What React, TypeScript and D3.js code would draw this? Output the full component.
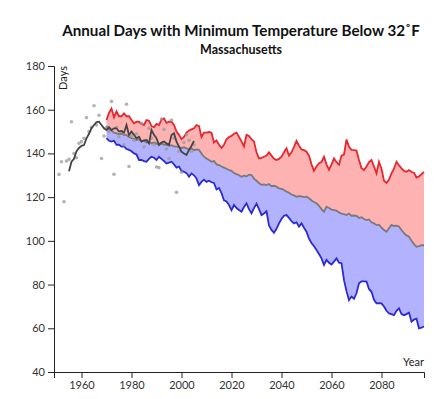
import React, { useRef, useEffect } from "react";
import * as d3 from "d3";

// observed annual counts (dots), 1951-2005
const obsYears = d3.range(1951, 2006);
const obsDays = [
  130.4, 136.2, 117.9, 136.5, 137.3, 154.5, 140, 138, 144.6, 145.4,
  146.9, 156.4, 150, 152, 161.8, 153, 157.5, 137.7, 148, 152,
  150, 163.8, 130.5, 152, 147.6, 150, 143.9, 162.5, 134, 148,
  146, 149, 147, 153.8, 143, 146, 151.5, 147, 144, 133.8,
  133.5, 155.7, 151, 142, 137.7, 155.3, 147, 122.2, 141, 131.4,
  145, 148.5, 146, 141, 144,
];

// observed running mean, 1955-2005
const meanYears = d3.range(1955, 2006);
const meanDays = [
  131.8, 136.2, 137.5, 141, 142.5, 143.5, 143.8, 146.9, 149, 151.5,
  153, 154.3, 154.5, 153, 151.5, 150.7, 152, 150.7, 151.5, 151.5,
  150, 150.3, 149.5, 153, 148.4, 150, 148.5, 146.9, 147.6, 145.4,
  146, 146.1, 144.6, 150.7, 148.5, 146.9, 143.9, 145, 145.4, 144.6,
  143.9, 148.4, 149.2, 145.4, 143.1, 140.8, 140, 139.3, 141.6, 143.5,
  145.7,
];

// modelled projections, 1970-2097
const projYears = d3.range(1970, 2098);
const highDays = [
  155.3, 158.5, 160.5, 156.5, 159.2, 157, 157, 158.3, 157, 157,
  155.3, 153.8, 154.5, 154.5, 153.5, 153, 155.3, 155, 152.5, 152,
  153.5, 153, 155.5, 156, 154, 154.5, 154.5, 153, 150, 148.5,
  146.5, 147.5, 149.5, 150.5, 151, 151.5, 153, 152.5, 147.5, 149.5,
  149.5, 149.8, 149.5, 145, 146, 144, 142.5, 144, 146.5, 147.5,
  148, 149, 149.5, 147.5, 145.5, 143.2, 148.5, 148, 146.5, 145.5,
  140.5, 137.7, 138, 138.5, 139, 140.5, 139, 137.5, 137, 137.5,
  138.5, 140.5, 142.3, 139, 140.5, 143, 145.7, 143.5, 141.8, 141.5,
  140.8, 139, 135, 132, 134, 135.5, 136, 138.5, 135, 132.5,
  135, 137.7, 136, 134.8, 139, 139.5, 146.4, 143, 141.6, 141.5,
  141.3, 137, 133.2, 132.4, 134, 136, 137, 134, 130.9, 136.2,
  133, 127.5, 126.5, 128, 130.9, 133, 136.2, 134.5, 133.2, 132,
  131.6, 132.4, 131.5, 131.2, 129, 129.5, 130.5, 131.6,
];
const medianDays = [
  152.5, 151, 150.5, 149.5, 149.2, 148.8, 149, 148.5, 148.4, 147.5,
  147, 146.8, 146.1, 146.5, 145.5, 145.8, 145, 145.4, 144.6, 145,
  144.5, 144, 144.5, 144, 143.9, 143.5, 143.8, 143.2, 143.1, 143,
  142.5, 142.8, 142.3, 141.8, 142.3, 141.5, 141.8, 141.6, 140, 138.5,
  137.7, 137, 136.2, 136.5, 135, 134.7, 134, 133.5, 133, 132.4,
  132, 131, 130.5, 130, 129.3, 129.8, 129.5, 130.3, 130.1, 128.5,
  127.5, 126.5, 125.6, 125.8, 125.5, 126, 125, 125.2, 124.8, 124,
  123.8, 123.3, 122.5, 122, 121.2, 120.8, 120.2, 120.5, 120.4, 120,
  120.2, 119.5, 118.5, 117.8, 117.2, 116, 114.5, 113.3, 115.6, 115,
  114.3, 114.1, 113.8, 113, 112.5, 112.2, 111.8, 112.5, 111.5, 111.6,
  111.4, 110.5, 110.8, 110, 109.5, 109.8, 108.5, 108, 107.2, 107.4,
  106, 105, 104.2, 105.8, 107.3, 106.8, 107, 106.6, 105, 103.5,
  102.5, 101.9, 100, 98.5, 97.3, 97.6, 98, 98,
];
const lowDays = [
  147, 145.8, 145.4, 145.8, 143.9, 144, 143.1, 143.2, 142, 141.6,
  141, 140, 139.5, 137, 137, 136.5, 136.2, 137.5, 138.5, 138,
  137, 138.5, 137.5, 136.5, 135.4, 135.8, 136.2, 135, 133.5, 134,
  132, 131.6, 131, 129.3, 130.8, 130, 128.5, 125.5, 127, 128,
  127, 127.5, 126.8, 126.5, 123.5, 124.2, 121.8, 118.5, 118, 116.4,
  114, 116.4, 115, 114.1, 113.3, 115.5, 117.2, 114.5, 112.6, 115,
  117, 114.5, 111.8, 112.5, 113.5, 107, 105, 103.7, 105.5, 108,
  110, 111.5, 111.8, 110.5, 109, 108, 108.5, 106.5, 108, 106,
  104.2, 101, 99, 97.5, 95.8, 94, 92, 89, 91.3, 90,
  89.2, 90.5, 92, 90, 89.8, 82, 77, 72.9, 74.5, 73.5,
  76, 80.6, 81.5, 81.5, 81.4, 78, 76.7, 73, 71.4, 71.5,
  71.4, 70, 68, 66.8, 66.5, 66, 68, 69.1, 66.5, 66,
  66.5, 67.2, 63, 64, 64.4, 60, 60.3, 60.8,
];

const yTicks = [40, 60, 80, 100, 120, 140, 160, 180];
const xTicks = [1960, 1980, 2000, 2020, 2040, 2060, 2080];

export default function App() {
  const ref = useRef<SVGSVGElement>(null);

  const width = 445;
  const height = 399;
  const left = 54;
  const right = 424;
  const top = 66;
  const bottom = 372;

  useEffect(() => {
    const svg = d3.select(ref.current);
    svg.selectAll("*").remove();

    const x = d3.scaleLinear().domain([1949, 2097]).range([left, right]);
    const y = d3.scaleLinear().domain([40, 180]).range([bottom, top]);

    const proj = projYears.map((yr, i) => ({
      year: yr,
      high: highDays[i],
      median: medianDays[i],
      low: lowDays[i],
    }));

    const font = "Lato, 'Open Sans', sans-serif";

    svg
      .append("path")
      .datum(proj)
      .attr("fill", "#ffb2b2")
      .attr(
        "d",
        d3
          .area<any>()
          .x((d) => x(d.year))
          .y0((d) => y(d.median))
          .y1((d) => y(d.high))
      );

    svg
      .append("path")
      .datum(proj)
      .attr("fill", "#b2b2ff")
      .attr(
        "d",
        d3
          .area<any>()
          .x((d) => x(d.year))
          .y0((d) => y(d.low))
          .y1((d) => y(d.median))
      );

    const lines = [
      { key: "high", color: "#e8262e" },
      { key: "low", color: "#2a2ad6" },
      { key: "median", color: "#7a7a7a" },
    ];
    lines.forEach((l) => {
      svg
        .append("path")
        .datum(proj)
        .attr("fill", "none")
        .attr("stroke", l.color)
        .attr("stroke-width", 1.8)
        .attr(
          "d",
          d3
            .line<any>()
            .x((d) => x(d.year))
            .y((d) => y(d[l.key]))
        );
    });

    svg
      .append("g")
      .selectAll("circle")
      .data(obsYears.map((yr, i) => ({ year: yr, v: obsDays[i] })))
      .join("circle")
      .attr("cx", (d) => x(d.year))
      .attr("cy", (d) => y(d.v))
      .attr("r", 1.8)
      .attr("fill", "#999")
      .attr("opacity", 0.75);

    svg
      .append("path")
      .datum(meanYears.map((yr, i) => ({ year: yr, v: meanDays[i] })))
      .attr("fill", "none")
      .attr("stroke", "#444")
      .attr("stroke-width", 1.8)
      .attr(
        "d",
        d3
          .line<any>()
          .x((d) => x(d.year))
          .y((d) => y(d.v))
      );

    const yAxis = svg
      .append("g")
      .attr("transform", `translate(${left},0)`)
      .call(d3.axisLeft(y).tickValues(yTicks).tickSizeOuter(6));
    yAxis
      .append("text")
      .attr("transform", "rotate(-90)")
      .attr("x", -top)
      .attr("y", 5)
      .attr("dy", "0.71em")
      .attr("text-anchor", "end")
      .attr("fill", "#222")
      .style("font-size", "11px")
      .text("Days");

    const xAxis = svg
      .append("g")
      .attr("transform", `translate(0,${bottom})`)
      .call(
        d3
          .axisBottom(x)
          .tickValues(xTicks)
          .tickFormat(d3.format("d"))
          .tickSizeOuter(6)
      );
    xAxis
      .append("text")
      .attr("x", right)
      .attr("y", -6)
      .attr("text-anchor", "end")
      .attr("fill", "#222")
      .style("font-size", "11px")
      .text("Year");

    svg
      .selectAll(".tick text")
      .style("font-size", "11px")
      .attr("fill", "#333");
    svg.selectAll(".domain, .tick line").attr("stroke", "#222");
    svg.selectAll("g").attr("font-family", font);

    svg
      .append("text")
      .attr("x", 241)
      .attr("y", 36)
      .attr("text-anchor", "middle")
      .attr("font-family", font)
      .attr("font-weight", "bold")
      .style("font-size", "15.2px")
      .attr("fill", "#111")
      .text("Annual Days with Minimum Temperature Below 32˚F");

    svg
      .append("text")
      .attr("x", 241)
      .attr("y", 54)
      .attr("text-anchor", "middle")
      .attr("font-family", font)
      .attr("font-weight", "bold")
      .style("font-size", "12.5px")
      .attr("fill", "#111")
      .text("Massachusetts");
  }, []);

  return (
    <svg
      ref={ref}
      width={width}
      height={height}
      style={{ position: "absolute", left: 0, top: 0, background: "#fff" }}
    ></svg>
  );
}
